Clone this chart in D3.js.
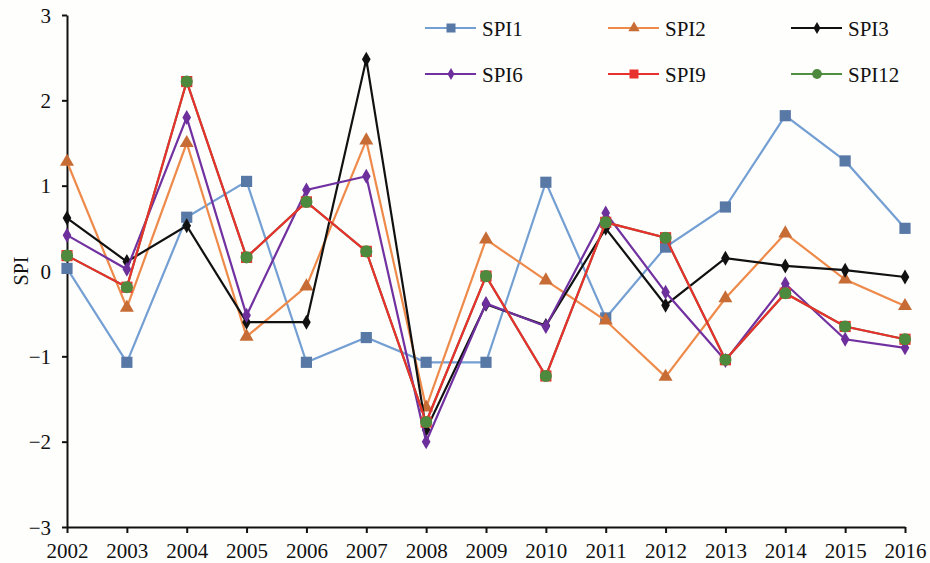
<!DOCTYPE html>
<html>
<head>
<meta charset="utf-8">
<script src="https://d3js.org/d3.v7.min.js"></script>
<style>
  body { margin: 0; background: #fefefd; }
  text { font-family: "Liberation Serif", "Times New Roman", serif; fill: #111; }
</style>
</head>
<body>
<div id="canvas"></div>
<script>
  // years on the x axis
  var years = [2002, 2003, 2004, 2005, 2006, 2007, 2008, 2009, 2010, 2011, 2012, 2013, 2014, 2015, 2016];
  var yTicks = [-3, -2, -1, 0, 1, 2, 3];

  // SPI values
  var spi1  = [0.03, -1.07, 0.63, 1.05, -1.07, -0.78, -1.07, -1.07, 1.04, -0.55, 0.28, 0.75, 1.82, 1.29, 0.50];
  var spi2  = [1.28, -0.43, 1.50, -0.77, -0.18, 1.53, -1.60, 0.37, -0.11, -0.58, -1.24, -0.32, 0.44, -0.10, -0.41];
  var spi3  = [0.62, 0.11, 0.53, -0.60, -0.60, 2.48, -1.86, -0.39, -0.64, 0.50, -0.40, 0.15, 0.06, 0.01, -0.07];
  var spi6  = [0.42, 0.02, 1.80, -0.52, 0.95, 1.11, -2.00, -0.38, -0.65, 0.68, -0.25, -1.05, -0.15, -0.80, -0.90];
  var spi9  = [0.18, -0.19, 2.22, 0.16, 0.81, 0.23, -1.77, -0.06, -1.23, 0.57, 0.39, -1.04, -0.26, -0.65, -0.80];
  var spi12 = [0.18, -0.19, 2.22, 0.16, 0.81, 0.23, -1.77, -0.06, -1.23, 0.57, 0.39, -1.04, -0.26, -0.65, -0.80];

  var series = [
    {name: "SPI1",  values: spi1,  line: "#749fd3", fill: "#5878a6", shape: d3.symbolSquare,   size: 125},
    {name: "SPI2",  values: spi2,  line: "#ee8a4a", fill: "#c86c36", shape: d3.symbolTriangle, size: 85},
    {name: "SPI3",  values: spi3,  line: "#111111", fill: "#111111", shape: d3.symbolDiamond,  size: 65},
    {name: "SPI6",  values: spi6,  line: "#7131a0", fill: "#6d2f9b", shape: d3.symbolDiamond,  size: 65},
    {name: "SPI12", values: spi12, line: "#4f9140", fill: "#4e8a3d", shape: d3.symbolCircle,   size: 115, lineOnly: true},
    {name: "SPI9",  values: spi9,  line: "#ea2f2f", fill: "#e8302f", shape: d3.symbolSquare,   size: 125},
    {name: "SPI12", values: spi12, line: "#4f9140", fill: "#4e8a3d", shape: d3.symbolCircle,   size: 115, markOnly: true}
  ];
  var legendOrder = ["SPI1", "SPI2", "SPI3", "SPI6", "SPI9", "SPI12"];

  var W = 930, H = 563;
  var svg = d3.select("#canvas").append("svg")
    .attr("width", W).attr("height", H);

  var x = d3.scaleLinear().domain([2002, 2016]).range([67, 905]);
  var y = d3.scaleLinear().domain([-3, 3]).range([527, 15]);

  // axes
  var xAxis = svg.append("g")
    .attr("transform", "translate(0," + y(-3) + ")")
    .call(d3.axisBottom(x).tickValues(years).tickFormat(d3.format("d")).tickSize(6).tickSizeOuter(0));
  var yAxis = svg.append("g")
    .attr("transform", "translate(" + x(2002) + ",0)")
    .call(d3.axisLeft(y).tickValues(yTicks).tickFormat(function(d) { return d < 0 ? "\u2212" + (-d) : d; })
      .tickSize(5).tickSizeOuter(0));
  [xAxis, yAxis].forEach(function(g) {
    g.select(".domain").attr("stroke", "#111").attr("stroke-width", 2);
    g.selectAll(".tick line").attr("stroke", "#111").attr("stroke-width", 2);
    g.selectAll(".tick text").style("font-size", "21px").attr("fill", "#111");
  });
  xAxis.selectAll(".tick text").attr("dy", "0").attr("y", 31);
  yAxis.selectAll(".tick text").attr("x", -16).attr("dy", "0.34em");

  svg.append("text")
    .text("SPI")
    .attr("transform", "translate(28," + y(0) + ") rotate(-90)")
    .attr("text-anchor", "middle")
    .style("font-size", "20px");

  // lines and markers
  var line = d3.line()
    .x(function(d, i) { return x(years[i]); })
    .y(function(d) { return y(d); });

  series.forEach(function(s) {
    var g = svg.append("g");
    if (!s.markOnly) {
      g.append("path")
        .attr("d", line(s.values))
        .attr("fill", "none")
        .attr("stroke", s.line)
        .attr("stroke-width", 2.2);
    }
    if (!s.lineOnly) {
      g.selectAll("path.m")
        .data(s.values)
        .enter()
        .append("path")
          .attr("class", "m")
          .attr("d", d3.symbol().type(s.shape).size(s.size))
          .attr("transform", function(d, i) { return "translate(" + x(years[i]) + "," + y(d) + ")"; })
          .attr("fill", s.fill);
    }
  });

  // legend
  var legend = svg.append("g");
  legendOrder.forEach(function(name, i) {
    var s = series.filter(function(t) { return t.name === name; })[0];
    var lx = 425 + (i % 3) * 183;
    var ly = 28 + Math.floor(i / 3) * 46;
    legend.append("line")
      .attr("x1", lx).attr("x2", lx + 51)
      .attr("y1", ly).attr("y2", ly)
      .attr("stroke", s.line).attr("stroke-width", 2);
    legend.append("path")
      .attr("d", d3.symbol().type(s.shape).size(s.size * 0.65))
      .attr("transform", "translate(" + (lx + 26) + "," + ly + ")")
      .attr("fill", s.fill);
    legend.append("text")
      .text(name)
      .attr("x", lx + 57)
      .attr("y", ly + 8)
      .style("font-size", "21px");
  });
</script>
</body>
</html>
